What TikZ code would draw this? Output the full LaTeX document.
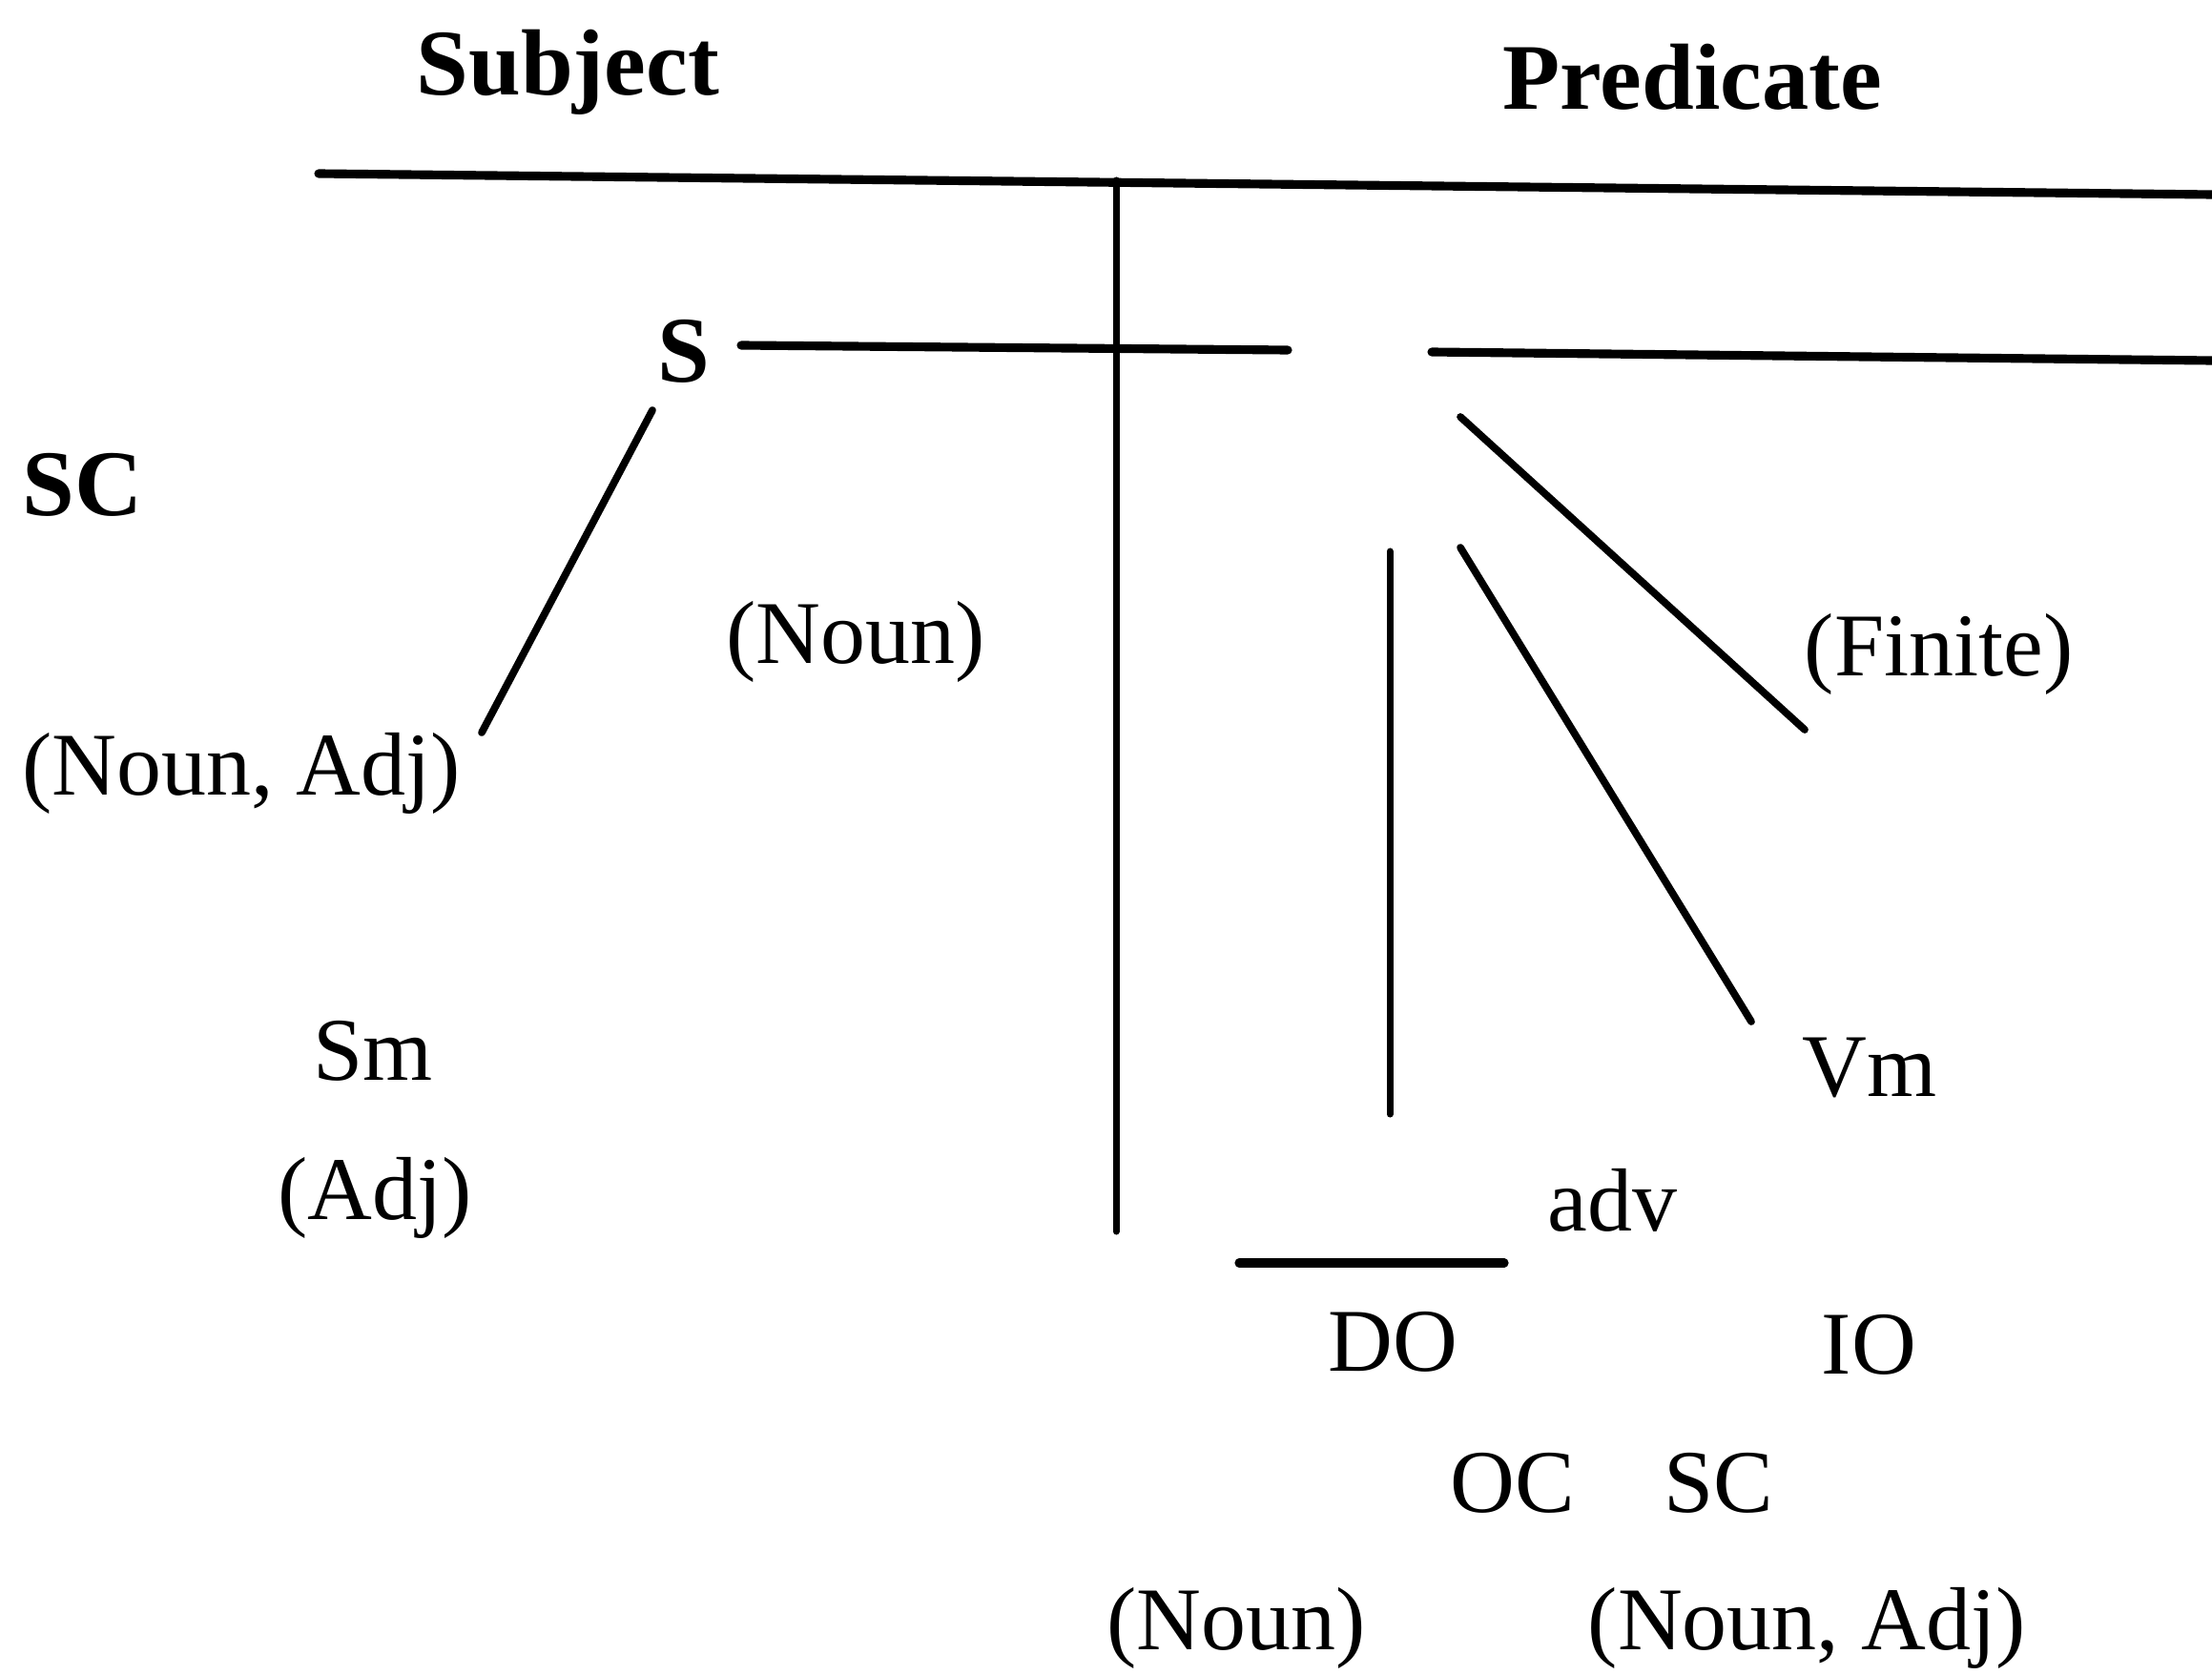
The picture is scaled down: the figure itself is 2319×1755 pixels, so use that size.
\documentclass[tikz,border=0pt]{standalone}
\usepackage{fontspec}
\setmainfont{Liberation Serif}
\begin{document}
\begin{tikzpicture}[x=0.01cm,y=-0.01cm,
  lbl/.style={inner sep=0pt,anchor=base west,font=\fontsize{26.7}{32}\selectfont},
  blbl/.style={inner sep=0pt,anchor=base west,font=\fontsize{28}{34}\selectfont\bfseries},
  hline/.style={line width=2.6pt,line cap=round},
  vline/.style={line width=2pt,line cap=round},
  sline/.style={line width=2.2pt,line cap=round}]
\useasboundingbox (0,0) rectangle (2319,1755);
% labels
\node[blbl] (subj) at (436,100) {Subject};
\node[blbl] (pred) at (1575,115) {Predicate};
\node[blbl] (s) at (689,400) {S};
\node[blbl] (sc1) at (23,540) {SC};
\node[lbl] (noun1) at (761,695) {(Noun)};
\node[lbl] (nounadj1) at (23,833) {(Noun, Adj)};
\node[lbl] (finite) at (1891,708) {(Finite)};
\node[lbl] (vm) at (1889,1149) {Vm};
\node[lbl] (sm) at (328,1132) {Sm};
\node[lbl] (adj) at (291,1278) {(Adj)};
\node[lbl] (adv) at (1622,1290) {adv};
\node[lbl] (do) at (1392,1437) {DO};
\node[lbl] (io) at (1909,1440) {IO};
\node[lbl] (oc) at (1520,1585) {OC};
\node[lbl] (sc2) at (1744,1585) {SC};
\node[lbl] (noun2) at (1160,1729) {(Noun)};
\node[lbl] (nounadj2) at (1664,1729) {(Noun, Adj)};
% coordinates
\coordinate (tl) at (334,182);
\coordinate (tr) at (2319,204);
\coordinate (vt) at (1170,189);
\coordinate (vb) at (1170,1291);
\coordinate (sa) at (777,362);
\coordinate (sb) at (1350,367);
\coordinate (sc) at (1501,369);
\coordinate (sd) at (2319,378);
\coordinate (da) at (684,430);
\coordinate (db) at (505,768);
\coordinate (fa) at (1531,437);
\coordinate (fb) at (1892,765);
\coordinate (va) at (1531,574);
\coordinate (vbb) at (1836,1071);
\coordinate (ka) at (1457,578);
\coordinate (kb) at (1457,1168);
\coordinate (ha) at (1299,1324);
\coordinate (hb) at (1577,1324);
% lines
\draw[hline] (tl) -- (tr);
\draw[vline] (vt) -- (vb);
\draw[hline] (sa) -- (sb);
\draw[hline] (sc) -- (sd);
\draw[sline] (da) -- (db);
\draw[sline] (fa) -- (fb);
\draw[sline] (va) -- (vbb);
\draw[vline] (ka) -- (kb);
\draw[hline] (ha) -- (hb);
\end{tikzpicture}
\end{document}
